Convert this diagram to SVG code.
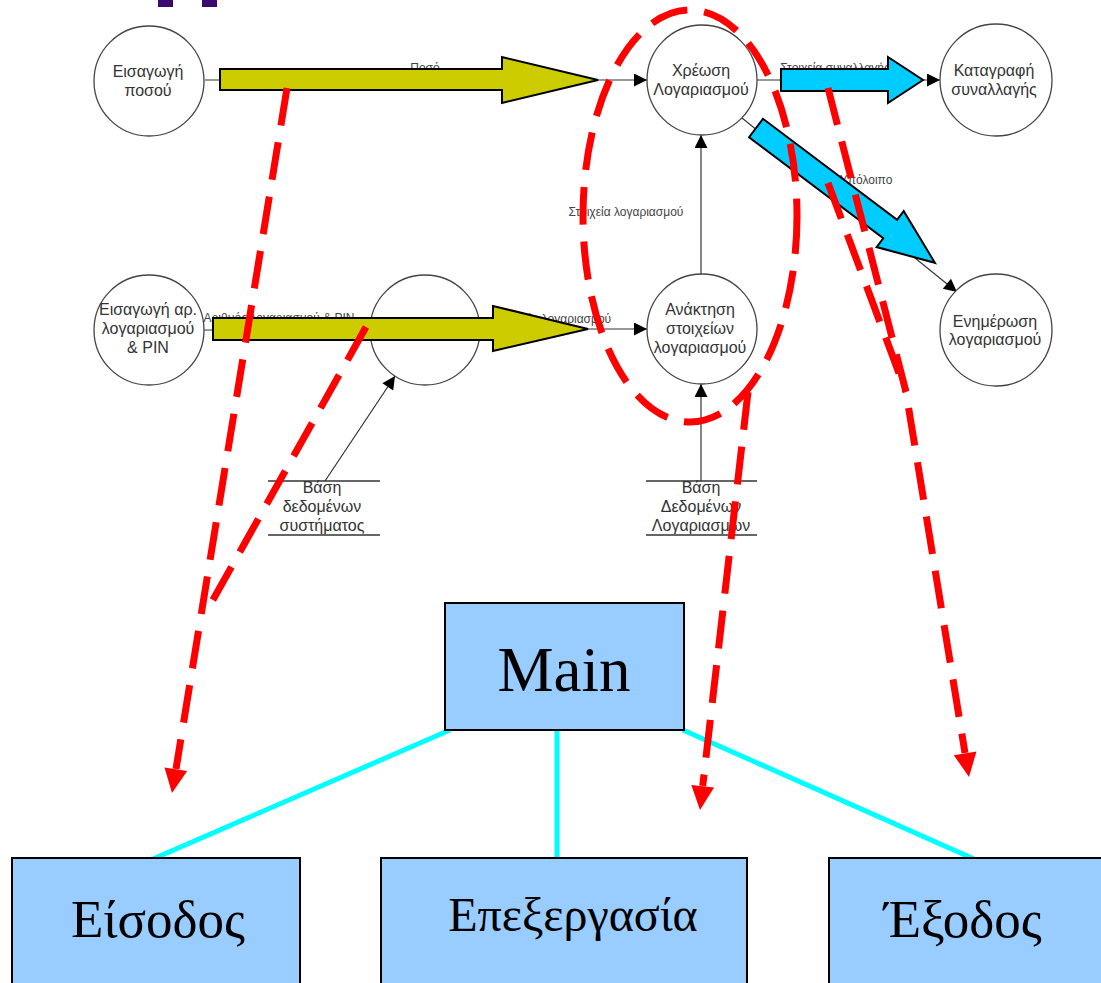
<svg xmlns="http://www.w3.org/2000/svg" width="1101" height="983" viewBox="0 0 1101 983">
<defs>
<style>
.proc{fill:#fff;stroke:#444;stroke-width:1.3}
.nt{font-family:"Liberation Sans",Arial,sans-serif;font-size:16px;fill:#333;text-anchor:middle}
.el{font-family:"Liberation Sans",Arial,sans-serif;font-size:12px;fill:#444;text-anchor:middle}
.flow{fill:none;stroke:#333;stroke-width:1.2}
.store{stroke:#333;stroke-width:1.3}
.yel{fill:#cccc00;stroke:#000;stroke-width:2}
.cy{fill:#00ccff;stroke:#000;stroke-width:2}
.red{fill:none;stroke:#ff0000;stroke-width:7;stroke-dasharray:38 17}
.rh{fill:#ff0000}
.box{fill:#99ccff;stroke:#000;stroke-width:2}
.bt{font-family:"Liberation Serif","Times New Roman",serif;fill:#000;text-anchor:middle}
.tree{stroke:#00ffff;stroke-width:5;fill:none}
</style>
<marker id="ah" viewBox="0 0 10 10" refX="10" refY="5" markerWidth="15" markerHeight="13" markerUnits="userSpaceOnUse" orient="auto">
<path d="M0,0 L10,5 L0,10 Z" fill="#000"/>
</marker>
</defs>
<rect width="1101" height="983" fill="#fff"/>
<g id="title-fragment" fill="#3a0a6e">
<rect x="158" y="0" width="15" height="7"/>
<rect x="202" y="0" width="15" height="7"/>
</g>
<g id="connectors">
<line class="flow" x1="205" y1="80" x2="647" y2="80" marker-end="url(#ah)"/>
<text class="el" x="425" y="72">Ποσό</text>
<line class="flow" x1="757" y1="80" x2="940" y2="80" marker-end="url(#ah)"/>
<text class="el" x="835" y="72">Στοιχεία συναλλαγής</text>
<line class="flow" x1="742" y1="118" x2="957" y2="292" marker-end="url(#ah)"/>
<text class="el" x="866" y="184">Υπόλοιπο</text>
<line class="flow" x1="204" y1="330" x2="371" y2="330" marker-end="url(#ah)"/>
<text class="el" x="279" y="322" font-size="11">Αριθμός λογαριασμού &amp; PIN</text>
<line class="flow" x1="480" y1="329" x2="647" y2="329" marker-end="url(#ah)"/>
<text class="el" x="553" y="323">Αριθμός λογαριασμού</text>
<line class="flow" x1="325" y1="481" x2="395" y2="376" marker-end="url(#ah)"/>
<line class="flow" x1="701" y1="481" x2="701" y2="384" marker-end="url(#ah)"/>
<line class="flow" x1="701" y1="275" x2="701" y2="135" marker-end="url(#ah)"/>
<text class="el" x="626" y="216">Στοιχεία λογαριασμού</text>
<line class="tree" x1="450" y1="730" x2="153" y2="859"/>
<line class="tree" x1="557" y1="730" x2="557" y2="859"/>
<line class="tree" x1="683" y1="730" x2="974" y2="859"/>
</g>
<g id="n-eisagogi-posou"><circle class="proc" cx="149" cy="81" r="55"/><text class="nt" x="148" y="77">Εισαγωγή</text><text class="nt" x="148" y="96">ποσού</text></g>
<g id="n-xreosi"><circle class="proc" cx="702" cy="80" r="55"/><text class="nt" x="701" y="76">Χρέωση</text><text class="nt" x="701" y="95">Λογαριασμού</text></g>
<g id="n-katagrafi"><circle class="proc" cx="996" cy="80" r="56"/><text class="nt" x="994" y="76">Καταγραφή</text><text class="nt" x="994" y="95">συναλλαγής</text></g>
<g id="n-eisagogi-pin"><circle class="proc" cx="149" cy="330" r="55"/><text class="nt" x="148" y="315">Εισαγωγή αρ.</text><text class="nt" x="148" y="334">λογαριασμού</text><text class="nt" x="148" y="353">&amp; PIN</text></g>
<g id="n-middle"><circle class="proc" cx="425" cy="330" r="55"/></g>
<g id="n-anaktisi"><circle class="proc" cx="702" cy="329" r="55"/><text class="nt" x="700" y="315">Ανάκτηση</text><text class="nt" x="700" y="334">στοιχείων</text><text class="nt" x="700" y="353">λογαριασμού</text></g>
<g id="n-enimerosi"><circle class="proc" cx="996" cy="330" r="56"/><text class="nt" x="995" y="327">Ενημέρωση</text><text class="nt" x="995" y="345">λογαριασμού</text></g>
<g id="s-systima"><line class="store" x1="268" y1="481" x2="380" y2="481"/><line class="store" x1="268" y1="535" x2="380" y2="535"/><text class="nt" x="322" y="493">Βάση</text><text class="nt" x="322" y="512">δεδομένων</text><text class="nt" x="322" y="531">συστήματος</text></g>
<g id="s-logariasmon"><line class="store" x1="646" y1="481" x2="757" y2="481"/><line class="store" x1="646" y1="535" x2="757" y2="535"/><text class="nt" x="701" y="493">Βάση</text><text class="nt" x="701" y="512">Δεδομένων</text><text class="nt" x="701" y="531">Λογαριασμων</text></g>
<g id="big-arrows">
<polygon class="yel" points="220,69 502,69 502,57 598,80 502,103 502,90 220,90"/>
<polygon class="yel" points="213,318 493,318 493,306 588,329 493,351 493,340 213,340"/>
<polygon class="cy" points="781,69 888,69 888,57 923,80 888,103 888,91 781,91"/>
<polygon class="cy" transform="translate(756,128) rotate(37)" points="0,-11.5 168,-11.5 168,-22.5 224,0 168,22.5 168,11.5 0,11.5"/>
</g>
<g id="main"><rect class="box" x="445" y="603" width="239" height="127"/><text class="bt" x="564" y="691" font-size="63">Main</text></g>
<g id="eisodos"><rect class="box" x="12" y="858" width="288" height="140"/><text class="bt" x="158" y="937" font-size="53">Είσοδος</text></g>
<g id="epexergasia"><rect class="box" x="381" y="858" width="366" height="140"/><text class="bt" x="573" y="931" font-size="48">Επεξεργασία</text></g>
<g id="exodos"><rect class="box" x="829" y="858" width="290" height="140"/><text class="bt" x="963" y="937" font-size="53">Έξοδος</text></g>
<g id="red-annotations">
<ellipse class="red" cx="690" cy="216" rx="107" ry="206"/>
<path class="red" d="M287,88 L176,769"/>
<polygon class="rh" points="172,793 187.2,771.1 164.5,767.5"/>
<path class="red" d="M366,327 L205,614"/>
<path class="red" d="M748,392 L702.7,786"/>
<polygon class="rh" points="700,810 714.1,787.5 691.3,784.9"/>
<path class="red" d="M828,88 L906,392 L965,753"/>
<polygon class="rh" points="969,777 976.5,751.4 953.8,755.2"/>
<path class="red" d="M828,183 L906,392"/>
</g>
</svg>
